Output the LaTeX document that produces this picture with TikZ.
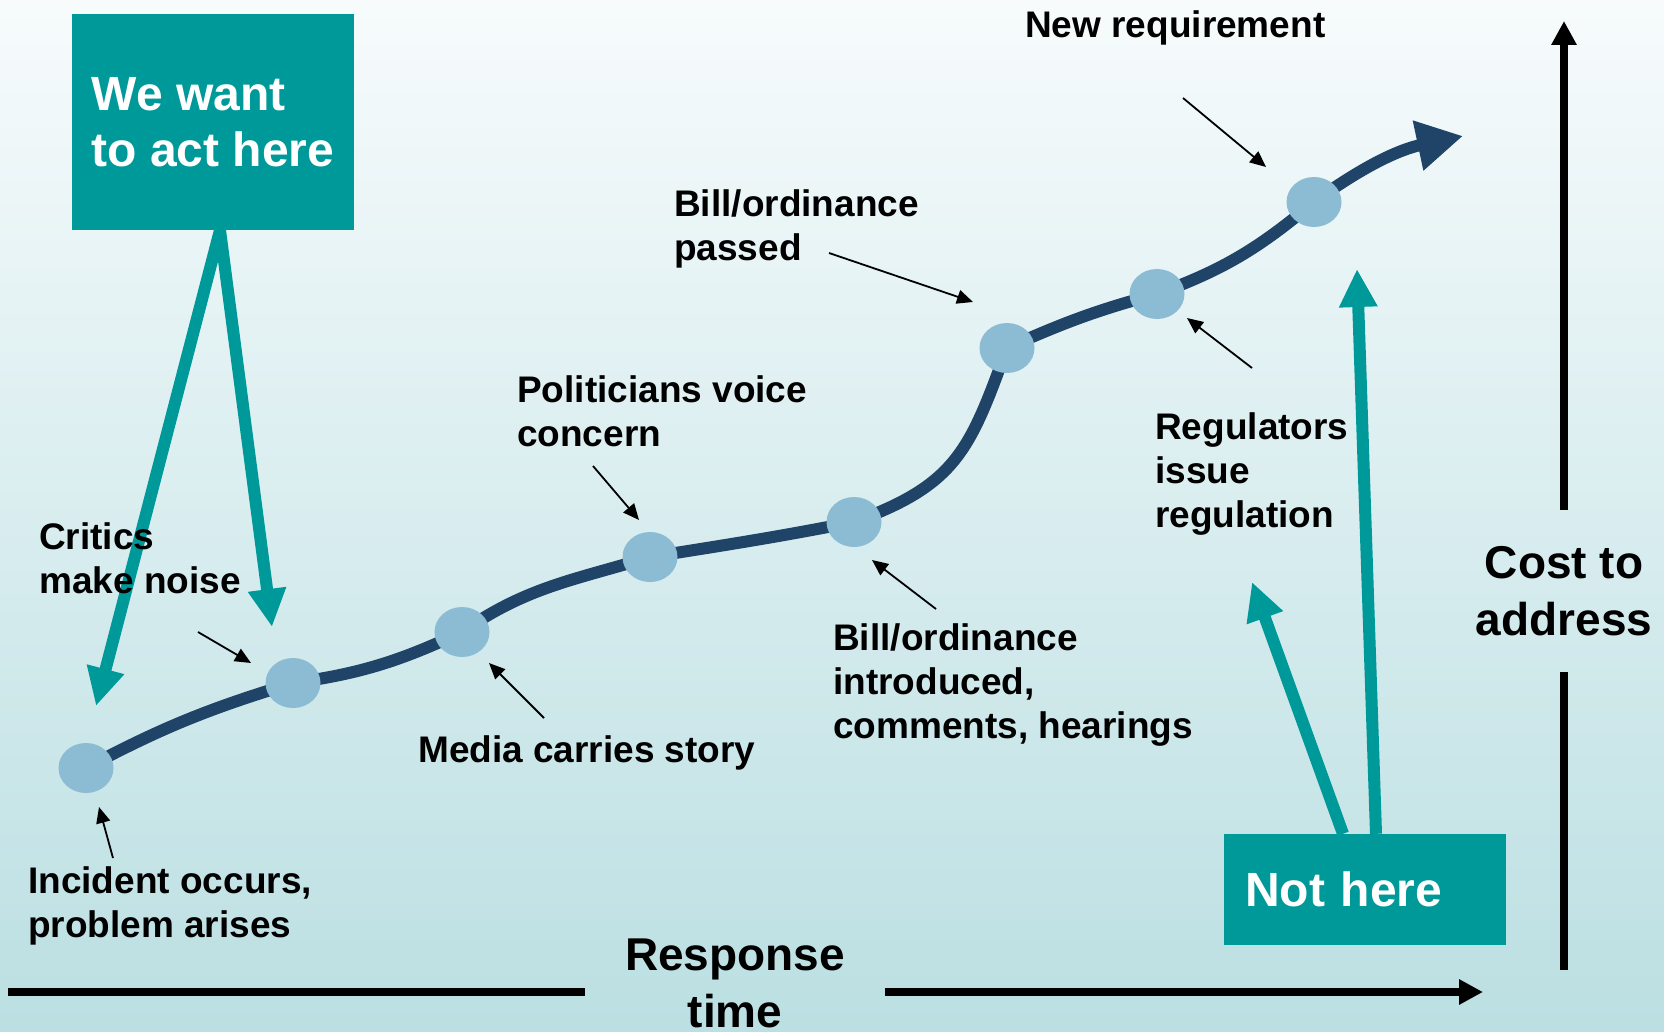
\documentclass[tikz,border=0pt]{standalone}
\usepackage{fontspec}
\setmainfont{Liberation Sans}
\usetikzlibrary{arrows.meta,shapes.geometric}
\definecolor{tealbox}{RGB}{0,153,153}
\definecolor{pathblue}{RGB}{32,68,104}
\definecolor{dotblue}{RGB}{139,188,212}
\definecolor{bgtop}{RGB}{247,251,252}
\definecolor{bgbottom}{RGB}{187,223,226}

\begin{document}
\begin{tikzpicture}[x=1pt,y=1pt,
    dot/.style={ellipse,fill=dotblue,minimum width=55pt,minimum height=50pt,inner sep=0},
    lbl/.style={anchor=base west,align=left,inner sep=0,font=\bfseries\fontsize{37}{44}\selectfont},
    big/.style={anchor=base,align=center,inner sep=0,font=\bfseries\fontsize{46}{57}\selectfont},
    flag/.style={fill=tealbox,text=white,minimum width=282pt,align=left,font=\bfseries\fontsize{48}{56}\selectfont},
    tealarrow/.style={draw=tealbox,line width=12pt,-{Triangle[length=38pt,width=36pt]}},
    pointer/.style={line width=1.8pt,-{Triangle[length=16pt,width=14pt]}},
    axis/.style={line width=8pt}]
      \useasboundingbox (0,0) rectangle (1664,-1032);
      \shade[top color=bgtop,bottom color=bgbottom] (0,0) rectangle (1664,-1032);

      % points on the curve
      \coordinate (p1) at (86,-768);
      \coordinate (p2) at (293,-683);
      \coordinate (p3) at (462,-632);
      \coordinate (p4) at (650,-557);
      \coordinate (p5) at (854,-522);
      \coordinate (p6) at (1007,-348);
      \coordinate (p7) at (1157,-294);
      \coordinate (p8) at (1314,-202);
      \coordinate (tip) at (1463,-136);

      \draw[line width=12pt,pathblue,-{Triangle[length=46pt,width=48pt]}]
        (p1) to[out=28,in=197] (p2) to[out=8,in=205] (p3) to[out=35,in=197] (p4)
        to[out=9,in=191] (p5) to[out=20,in=250,looseness=1.2] (p6) to[out=24,in=195] (p7)
        to[out=20,in=220] (p8) to[out=36,in=192] (tip);

      \node[dot] (d1) at (p1) {};
      \node[dot] (d2) at (p2) {};
      \node[dot] (d3) at (p3) {};
      \node[dot] (d4) at (p4) {};
      \node[dot] (d5) at (p5) {};
      \node[dot] (d6) at (p6) {};
      \node[dot] (d7) at (p7) {};
      \node[dot] (d8) at (p8) {};

      % boxes and their arrows
      \node[flag,minimum height=216pt] (act) at (213,-122) {We want\\to act here};
      \node[flag,minimum height=111pt,text width=240pt,inner xsep=21pt] (nothere) at (1365,-889.5) {Not here};
      \coordinate (hereA) at (96,-706);
      \coordinate (hereB) at (272,-627);
      \coordinate (notA) at (1252,-582);
      \coordinate (notB) at (1357,-269);
      \draw[tealarrow] ([xshift=7pt]act.south) -- (hereA);
      \draw[tealarrow] ([xshift=7pt]act.south) -- (hereB);
      \draw[tealarrow] ([xshift=-22pt]nothere.north) -- (notA);
      \draw[tealarrow] ([xshift=11pt]nothere.north) -- (notB);

      % labels (placed at the baseline of their last line)
      \node[lbl] (newreq) at (1025,-38) {New requirement};
      \node[lbl] (passed) at (674,-261) {Bill/ordinance\\passed};
      \node[lbl] (voice) at (517,-446) {Politicians voice\\concern};
      \node[lbl] (regs) at (1155,-527) {Regulators\\issue\\regulation};
      \node[lbl] (critics) at (39,-593) {Critics\\make noise};
      \node[lbl] (intro) at (833,-738) {Bill/ordinance\\introduced,\\comments, hearings};
      \node[lbl] (media) at (418,-762) {Media carries story};
      \node[lbl] (incident) at (28,-937) {Incident occurs,\\problem arises};

      \coordinate (newreq-a) at (1183,-98);   \coordinate (newreq-b) at (1266,-167);
      \coordinate (passed-a) at (829,-253);   \coordinate (passed-b) at (973,-302);
      \coordinate (voice-a) at (593,-466);    \coordinate (voice-b) at (639,-520);
      \coordinate (regs-a) at (1252,-368);    \coordinate (regs-b) at (1187,-318);
      \coordinate (critics-a) at (198,-632);  \coordinate (critics-b) at (251,-663);
      \coordinate (intro-a) at (936,-609);    \coordinate (intro-b) at (872,-560);
      \coordinate (media-a) at (544,-718);    \coordinate (media-b) at (489,-663);
      \coordinate (incident-a) at (113,-858); \coordinate (incident-b) at (99,-807);
      \draw[pointer] (newreq-a) -- (newreq-b);
      \draw[pointer] (passed-a) -- (passed-b);
      \draw[pointer] (voice-a) -- (voice-b);
      \draw[pointer] (regs-a) -- (regs-b);
      \draw[pointer] (critics-a) -- (critics-b);
      \draw[pointer] (intro-a) -- (intro-b);
      \draw[pointer] (media-a) -- (media-b);
      \draw[pointer] (incident-a) -- (incident-b);

      % axes
      \node[big,inner xsep=40pt] (resp) at (735,-1027) {Response\\time};
      \node[big,inner ysep=36pt] (cost) at (1564,-635) {Cost to\\address};
      \coordinate (xstart) at (8,-992);
      \coordinate (xend) at (1483,-992);
      \coordinate (ystart) at (1564,-970);
      \coordinate (yend) at (1564,-21);
      \draw[axis] (xstart) -- (resp.west |- xstart);
      \draw[axis,-{Triangle[length=24pt,width=24pt]}] (resp.east |- xend) -- (xend);
      \draw[axis] (ystart) -- (cost.south -| ystart);
      \draw[axis,-{Triangle[length=24pt,width=24pt]}] (cost.north -| yend) -- (yend);
    \end{tikzpicture}
\end{document}
